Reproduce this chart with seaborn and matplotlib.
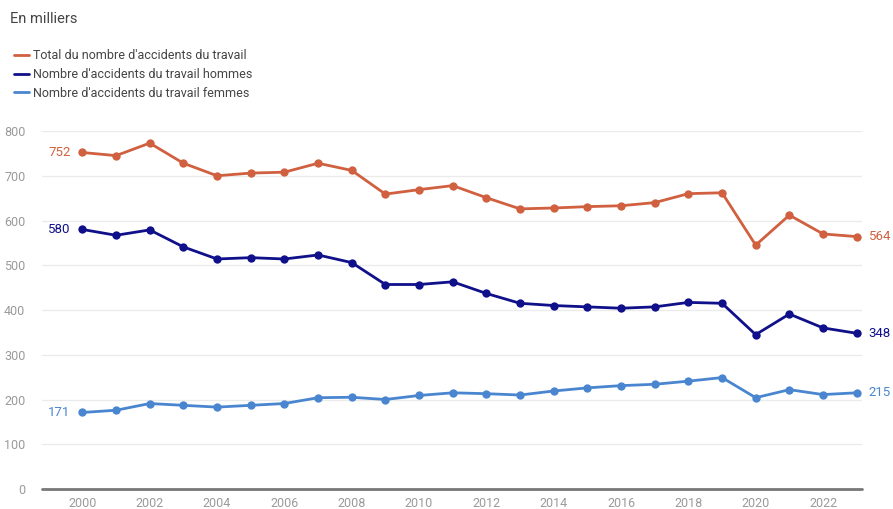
import matplotlib
matplotlib.use("Agg")
import matplotlib.pyplot as plt
import seaborn as sns
import pandas as pd

# Données (en milliers)
annees = list(range(2000, 2024))
total = [752, 745, 773, 728, 700, 706, 708, 728, 712, 659, 669, 678, 651, 626,
         628, 631, 633, 640, 660, 662, 545, 612, 570, 564]
hommes = [580, 567, 579, 541, 514, 517, 514, 523, 506, 457, 457, 463, 437, 415,
          410, 407, 404, 407, 417, 415, 345, 391, 360, 348]
femmes = [171, 176, 191, 187, 183, 187, 191, 204, 205, 200, 209, 215, 213, 210,
          219, 226, 231, 234, 241, 249, 204, 222, 211, 215]

series = {
    "Total du nombre d'accidents du travail": (total, "#d0603f"),
    "Nombre d'accidents du travail hommes": (hommes, "#10108a"),
    "Nombre d'accidents du travail femmes": (femmes, "#4a86d0"),
}

sns.set_style("white")
plt.rcParams['font.family'] = ['Roboto', 'DejaVu Sans']

fig = plt.figure(figsize=(8.93, 5.09), dpi=100)
ax = fig.add_axes([0.047, 0.0393, 0.918, 0.7033])

for nom, (vals, couleur) in series.items():
    df = pd.DataFrame({"annee": annees, "valeur": vals})
    sns.lineplot(data=df, x="annee", y="valeur", ax=ax, color=couleur,
                 marker="o", markersize=6, markeredgewidth=0, linewidth=2,
                 clip_on=False, label=nom, legend=False, zorder=3)
    ax.text(annees[0] - 0.35, vals[0], str(vals[0]), color=couleur,
            ha="right", va="center", fontsize=9.5)
    ax.text(annees[-1] + 0.35, vals[-1], str(vals[-1]), color=couleur,
            ha="left", va="center", fontsize=9.5)

ax.set_xlim(1998.8, 2023.15)
ax.set_ylim(0, 800)
ax.set_yticks(range(0, 801, 100))
ax.set_xticks(range(2000, 2023, 2))
ax.grid(axis="y", color="#ebebeb", linewidth=1)
ax.axhline(0, color="#777777", linewidth=2, zorder=2, clip_on=False)
for s in ax.spines.values():
    s.set_visible(False)
ax.tick_params(axis="both", length=0, labelsize=9, colors="#9a9a9a", pad=6)
ax.tick_params(axis="y", pad=12)
ax.set_xlabel("")
ax.set_ylabel("")

fig.text(0.011, 0.963, "En milliers", fontsize=10.5, color="#444444", va="center")
h, l = ax.get_legend_handles_labels()
fig.legend(h, l, loc="upper left", bbox_to_anchor=(0.003, 0.925), frameon=False,
           fontsize=9, handlelength=1.2, handletextpad=0.35, labelspacing=0.45,
           labelcolor="#444444")
for line in fig.legends[0].get_lines():
    line.set_marker("")

fig.savefig("out.png", dpi=100)
